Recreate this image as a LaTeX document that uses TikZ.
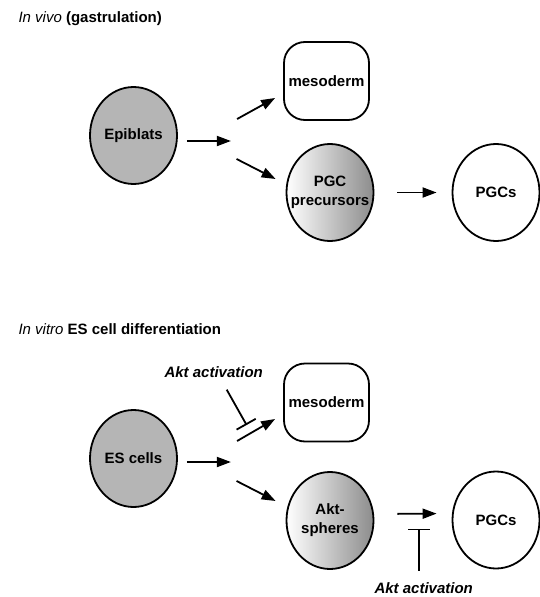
\documentclass[tikz,border=0pt]{standalone}
\usepackage{fontspec}
\setmainfont{Liberation Sans}
\usetikzlibrary{shapes.geometric,arrows.meta}
\definecolor{cellgray}{gray}{0.71}
\definecolor{shadegray}{gray}{0.55}
\definecolor{shademid}{gray}{0.83}

\begin{document}
\begin{tikzpicture}[x=1pt,y=-1pt,
  every node/.style={font=\fontsize{15}{19}\selectfont\bfseries},
  cell/.style={ellipse,draw,line width=1.8pt,minimum width=87pt,minimum height=97pt,inner sep=0pt},
  shaded/.style={left color=white,middle color=shademid,right color=shadegray},
  celltext/.style={label={[align=center]center:#1}},
  fate/.style={rectangle,draw,line width=1.8pt,rounded corners=21pt,minimum width=85pt,minimum height=78pt,inner sep=0pt},
  arr/.style={line width=1.8pt,-{Triangle[length=14pt,width=10pt]}},
  inh/.style={line width=1.8pt,-{Bar[width=22pt]}},
  akttext/.style={anchor=base west,font=\fontsize{15}{19}\selectfont\bfseries\itshape}]

\useasboundingbox (0,0) rectangle (540,597);

% In vivo
\node[anchor=base west] (title1) at (15,22) {\mdseries\itshape In vivo\/ \upshape\bfseries(gastrulation)};
\node[cell,fill=cellgray] (epi) at (133.5,135.5) {Epiblats};
\node[fate] (meso1) at (326.5,81) {mesoderm};
\node[cell,shaded,celltext={PGC\\precursors}] (pgcp) at (330,192.5) {};
\node[cell] (pgc1) at (496,192.5) {PGCs};

\draw[arr] ([shift={(9pt,-5.5pt)}]epi.east) -- ++(44,0);
\draw[arr] ([shift={(-46pt,-38pt)}]meso1.west) -- ([shift={(-8pt,-17pt)}]meso1.west);
\draw[arr] ([shift={(-49pt,33.5pt)}]pgcp.west) -- ([shift={(-10pt,13.5pt)}]pgcp.west);
\draw[arr,shorten <=23pt,shorten >=15pt] (pgcp) -- (pgc1);

% In vitro
\node[anchor=base west] (title2) at (15,334) {\mdseries\itshape In vitro\/ \upshape\bfseries ES cell differentiation};
\node[cell,fill=cellgray] (es) at (133.5,458.5) {ES cells};
\node[fate] (meso2) at (326.5,402.5) {mesoderm};
\node[cell,shaded,celltext={Akt-\\spheres}] (akt) at (330,520.5) {};
\node[cell] (pgc2) at (496,520) {PGCs};
\node[akttext] (act1) at (161,377) {Akt activation};
\node[akttext] (act2) at (371,593) {Akt activation};

\draw[arr] ([shift={(9pt,-3.5pt)}]es.east) -- ++(44,0);
\draw[arr] ([shift={(-46pt,-38.5pt)}]meso2.west) -- ([shift={(-8pt,-16.5pt)}]meso2.west);
\draw[arr] ([shift={(-49pt,39.5pt)}]akt.west) -- ([shift={(-10pt,19.5pt)}]akt.west);
\draw[arr,shorten <=23pt,shorten >=15pt] ([yshift=6.5pt]akt.east) -- ([yshift=6.5pt]pgc2.west);

\draw[inh] ([shift={(13pt,-9pt)}]act1.south) -- ([shift={(-36.5pt,-22.5pt)}]meso2.west);
\draw[inh] ([shift={(-4.5pt,8pt)}]act2.north) -- ++(0,-42);
\end{tikzpicture}
\end{document}
